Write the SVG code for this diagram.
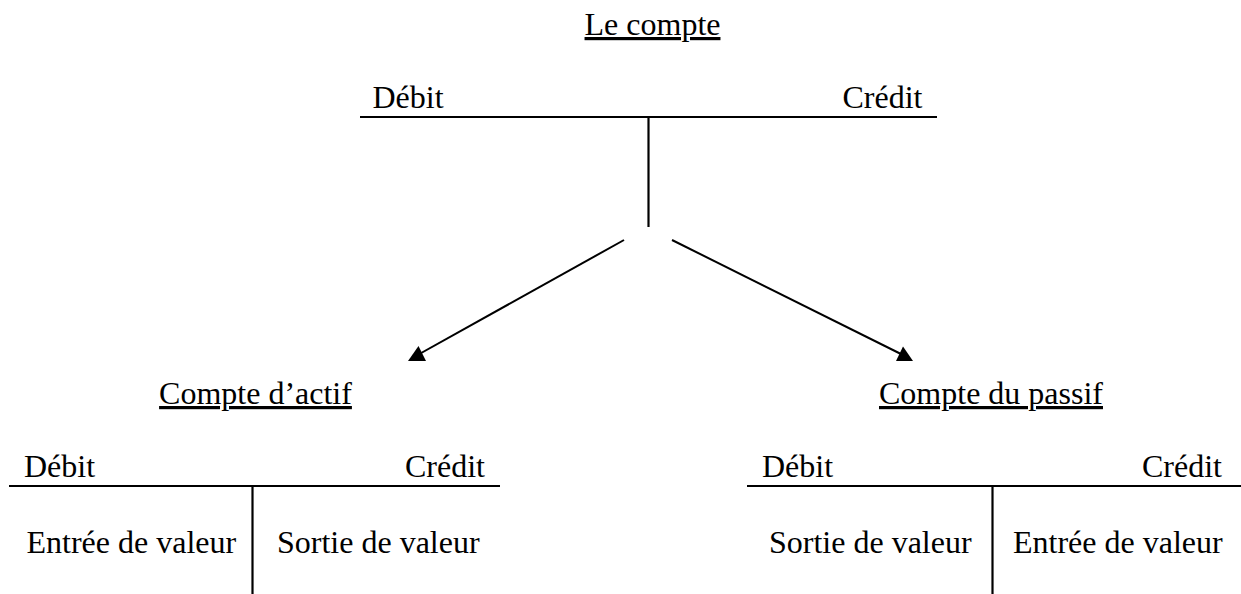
<svg xmlns="http://www.w3.org/2000/svg" width="1241" height="594" viewBox="0 0 1241 594">
  <style>
    text { font-family: "Liberation Serif", "Times New Roman", serif; font-size: 32px; fill: #000; }
    .u { text-decoration: underline; }
    .e { text-anchor: end; }
    .m { text-anchor: middle; }
    .ln { stroke: #000; stroke-width: 2.2; fill: none; }
    .ar { stroke: #000; stroke-width: 2; fill: none; }
    .hd { fill: #000; stroke: none; }
  </style>
  <rect width="1241" height="594" fill="#fff"/>

  <g id="compte">
    <text class="u m" x="652.5" y="35">Le compte</text>
    <text x="372.5" y="108">Débit</text>
    <text class="e" x="922.5" y="108">Crédit</text>
    <line class="ln" x1="360" y1="117" x2="937" y2="117"/>
    <line class="ln" x1="648.5" y1="117" x2="648.5" y2="227"/>
  </g>

  <g id="connectors">
    <line class="ar" x1="624" y1="240" x2="414" y2="357"/>
    <polygon class="hd" points="408,361 426,361 418.5,346"/>
    <line class="ar" x1="672" y1="240" x2="907" y2="357"/>
    <polygon class="hd" points="913,361 896,361 903,346.5"/>
  </g>

  <g id="compte-actif">
    <text class="u m" x="255.5" y="404">Compte d’actif</text>
    <text x="24" y="477">Débit</text>
    <text class="e" x="485" y="477">Crédit</text>
    <line class="ln" x1="9" y1="486" x2="500" y2="486"/>
    <line class="ln" x1="252.5" y1="486" x2="252.5" y2="594"/>
    <text x="26.5" y="553">Entrée de valeur</text>
    <text x="277" y="553">Sortie de valeur</text>
  </g>

  <g id="compte-passif">
    <text class="u m" x="991" y="404">Compte du passif</text>
    <text x="762" y="477">Débit</text>
    <text class="e" x="1222" y="477">Crédit</text>
    <line class="ln" x1="747" y1="486" x2="1241" y2="486"/>
    <line class="ln" x1="992.5" y1="486" x2="992.5" y2="594"/>
    <text x="769" y="553">Sortie de valeur</text>
    <text x="1013" y="553">Entrée de valeur</text>
  </g>
</svg>
